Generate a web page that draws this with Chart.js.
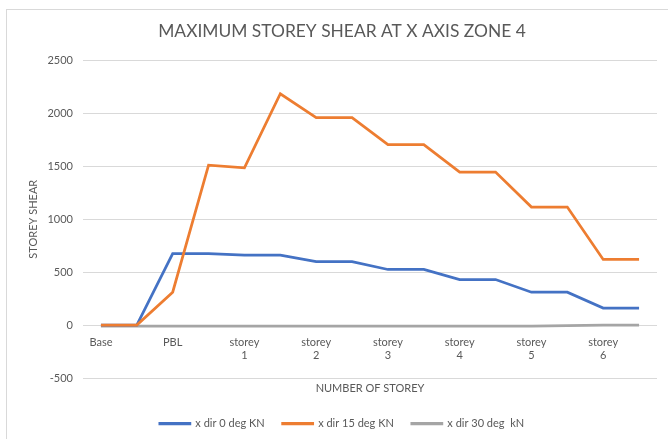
<!DOCTYPE html>
<html>
<head>
<meta charset="utf-8">
<script src="https://cdn.jsdelivr.net/npm/chart.js@4.4.1/dist/chart.umd.min.js"></script>
<style>
  html, body { margin: 0; padding: 0; background: #fff; }
  #wrap { position: relative; width: 668px; height: 439px; overflow: hidden; }
  #frame { position: absolute; left: 6px; top: 9px; width: 700px; height: 500px; border: 1px solid #d9d9d9; }
  #cv { position: absolute; left: 0; top: 0; }
</style>
</head>
<body>
<div id="wrap">
  <div id="frame"></div>
  <canvas id="cv" width="668" height="439"></canvas>
</div>
<script>
// categories (top / bottom of each storey)
const storeys = ["Base", "Base", "PBL", "PBL",
  "storey 1", "storey 1", "storey 2", "storey 2", "storey 3", "storey 3",
  "storey 4", "storey 4", "storey 5", "storey 5", "storey 6", "storey 6"];

const dir0 = [0, 0, 675, 675, 660, 660, 600, 600, 525, 525, 430, 430, 310, 310, 160, 160];
const dir15 = [0, 0, 310, 1510, 1485, 2185, 1960, 1960, 1705, 1705, 1445, 1445, 1115, 1115, 620, 620];
const dir30 = [-10, -10, -10, -10, -10, -10, -10, -10, -10, -10, -10, -10, -10, -5, 0, 0];

const yTicks = [-500, 0, 500, 1000, 1500, 2000, 2500];

const textColor = '#595959';
const fontFamily = 'Lato, "Open Sans", sans-serif';

var ctx = document.getElementById('cv');

// order: orange drawn over blue, gray underneath
var chartData = {
    labels: storeys,
    datasets: [
        {label: 'x dir 0 deg KN', data: dir0, borderColor: '#4472C4', backgroundColor: '#4472C4', order: 2},
        {label: 'x dir 15 deg KN', data: dir15, borderColor: '#ED7D31', backgroundColor: '#ED7D31', order: 1},
        {label: 'x dir 30 deg  kN', data: dir30, borderColor: '#A5A5A5', backgroundColor: '#A5A5A5', order: 3}
    ]
};
chartData.datasets.forEach(function (ds) {
    ds.borderWidth = 2.75;
    ds.pointRadius = 0;
    ds.tension = 0;
    ds.fill = false;
});

var chartOptions = {
    responsive: false,
    animation: false,
    layout: { padding: { left: 27, right: 11, top: 0, bottom: 0 } },
    plugins: {
        title: {
            display: true,
            text: 'MAXIMUM STOREY SHEAR AT X AXIS ZONE 4',
            color: textColor,
            font: { family: fontFamily, size: 17.4, weight: 'normal' },
            padding: { top: 21, bottom: 18.5 }
        },
        legend: {
            position: 'bottom',
            // blank legend title only used as a spacer above the items
            title: { display: true, text: ' ', font: { size: 10 }, padding: { top: 10, bottom: 0 } },
            labels: {
                color: textColor,
                font: { family: fontFamily, size: 11 },
                boxWidth: 30,
                boxHeight: 0.5,
                padding: 18,
                sort: function (a, b) { return a.datasetIndex - b.datasetIndex; }
            }
        },
        tooltip: { enabled: false }
    },
    scales: {
        x: {
            position: { y: 0 },
            offset: true,
            grid: { display: false },
            border: { display: false },
            ticks: {
                color: textColor,
                font: { family: fontFamily, size: 11 },
                autoSkip: false,
                maxRotation: 0,
                padding: 3,
                callback: function (val, i) {
                    if (i % 2 !== 0) return '';
                    var s = this.getLabelForValue(val);
                    return s.indexOf(' ') > 0 ? s.split(' ') : s;
                }
            },
            title: {
                display: true,
                text: 'NUMBER OF STOREY',
                color: textColor,
                font: { family: fontFamily, size: 11 },
                padding: { top: 16, bottom: 0 }
            }
        },
        y: {
            min: -500,
            max: 2500,
            afterBuildTicks: function (scale) {
                scale.ticks = yTicks.map(function (v) { return { value: v }; });
            },
            afterFit: function (scale) { scale.width = 56; },
            grid: { color: '#d9d9d9', lineWidth: 1, drawTicks: false },
            border: { display: false },
            ticks: {
                color: textColor,
                font: { family: fontFamily, size: 11 },
                padding: 10,
                callback: function (v) { return String(v); }
            },
            title: {
                display: true,
                text: 'STOREY SHEAR',
                color: textColor,
                font: { family: fontFamily, size: 11 },
                padding: { top: 0, bottom: 0 }
            }
        }
    }
};

var config = {
    type: 'line',
    data: chartData,
    options: chartOptions
};

var storeyChart = new Chart(ctx, config);
</script>
</body>
</html>
